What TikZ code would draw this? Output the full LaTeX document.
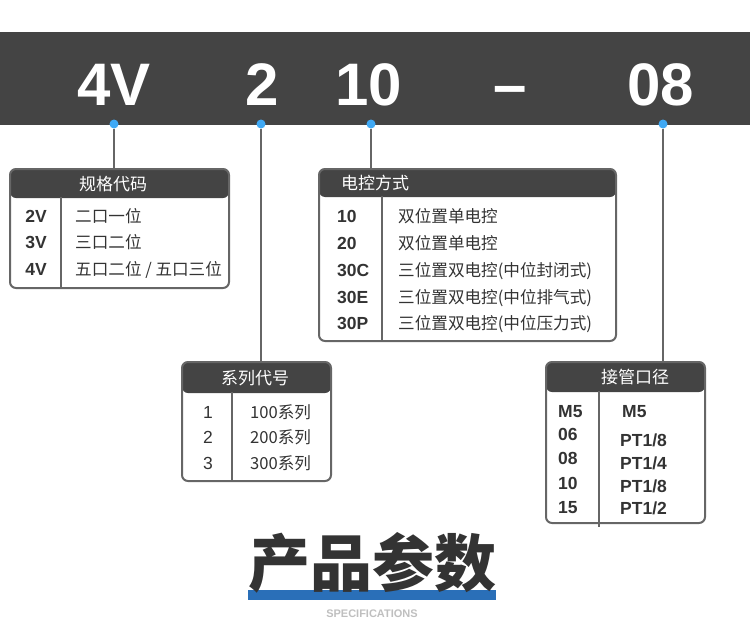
\documentclass[tikz,border=0pt]{standalone}
\usepackage{fontspec}
\setmainfont{Liberation Sans}
\newfontfamily\cjk{Noto Sans CJK SC}
\definecolor{balken}{HTML}{444444}
\definecolor{rahmenfarbe}{HTML}{666666}
\definecolor{punktblau}{HTML}{3FA9F5}
\definecolor{textgrau}{HTML}{333333}
\definecolor{titelblau}{HTML}{2A6FB8}
\begin{document}
\begin{tikzpicture}[x=1pt,y=-1pt,
    kasten/.style={draw=rahmenfarbe,line width=2pt,rounded corners=6pt,inner sep=0pt,
      path picture={\fill[balken] (path picture bounding box.north west) rectangle
        ([yshift=-#1]path picture bounding box.north east);}},
    trenn/.style={draw=rahmenfarbe,line width=2pt},
    leitung/.style={draw=rahmenfarbe,line width=2pt},
    punkt/.style={circle,fill=punktblau,inner sep=0pt,minimum size=9pt},
    ziffer/.style={text=white,font=\bfseries\fontsize{60}{60}\selectfont,anchor=base,inner sep=0pt},
    kopftext/.style={text=white,font=\cjk\fontsize{17}{19}\selectfont,anchor=base,inner sep=0pt},
    code/.style={text=textgrau,font=\bfseries\fontsize{17.5}{19}\selectfont,inner sep=0pt},
    eintrag/.style={text=textgrau,font=\cjk\fontsize{16.6}{18}\selectfont,anchor=base west,inner sep=0pt}]
  \useasboundingbox (0,0) rectangle (750,632);
  % Kopfbalken
  \fill[balken] (0,32) rectangle (750,125);
  \node[ziffer] (z1) at (114,105) {4V};
  \node[ziffer] (z2) at (262,105) {2};
  \node[ziffer] (z3) at (369,105) {10};
  \node[ziffer] (z4) at (510,105) {–};
  \node[ziffer] (z5) at (661,105) {08};
  \node[punkt] (p1) at (114,124) {};
  \node[punkt] (p2) at (261,124) {};
  \node[punkt] (p3) at (371,124) {};
  \node[punkt] (p4) at (663,124) {};
  %
  % Kasten 1, Baureihe
  \node[kasten=29pt,minimum width=219pt,minimum height=119pt] (k1) at (119.5,228.5) {};
  \draw[trenn] ([xshift=52pt,yshift=-29pt]k1.north west) -- ([xshift=52pt]k1.south west);
  \node[kopftext] (h1) at (113,190) {规格代码};
  \node[code,anchor=base] (a11) at (36,222) {2V};
  \node[code,anchor=base] (a12) at (36,248) {3V};
  \node[code,anchor=base] (a13) at (36,275) {4V};
  \node[eintrag] (b11) at (75,222) {二口一位};
  \node[eintrag] (b12) at (75,248) {三口二位};
  \node[eintrag] (b13) at (75,275) {五口二位 / 五口三位};
  %
  % Kasten 2, Steuerung
  \node[kasten=28pt,minimum width=297pt,minimum height=172pt] (k2) at (467.5,255) {};
  \draw[trenn] ([xshift=64pt,yshift=-28pt]k2.north west) -- ([xshift=64pt]k2.south west);
  \node[kopftext,anchor=base west] (h2) at (341,189) {电控方式};
  \node[code,anchor=base west] (a21) at (337,222) {10};
  \node[code,anchor=base west] (a22) at (337,249) {20};
  \node[code,anchor=base west] (a23) at (337,276) {30C};
  \node[code,anchor=base west] (a24) at (337,303) {30E};
  \node[code,anchor=base west] (a25) at (337,329) {30P};
  \node[eintrag] (b21) at (398,222) {双位置单电控};
  \node[eintrag] (b22) at (398,249) {双位置单电控};
  \node[eintrag] (b23) at (398,276) {三位置双电控(中位封闭式)};
  \node[eintrag] (b24) at (398,303) {三位置双电控(中位排气式)};
  \node[eintrag] (b25) at (398,329) {三位置双电控(中位压力式)};
  %
  % Kasten 3, Serie
  \node[kasten=31pt,minimum width=149pt,minimum height=119pt] (k3) at (256.5,421.5) {};
  \draw[trenn] ([xshift=51pt,yshift=-31pt]k3.north west) -- ([xshift=51pt]k3.south west);
  \node[kopftext] (h3) at (255,384) {系列代号};
  \node[code,font=\fontsize{17.5}{19}\selectfont,anchor=base] (a31) at (208,418) {1};
  \node[code,font=\fontsize{17.5}{19}\selectfont,anchor=base] (a32) at (208,443) {2};
  \node[code,font=\fontsize{17.5}{19}\selectfont,anchor=base] (a33) at (208,469) {3};
  \node[eintrag] (b31) at (250,418) {100系列};
  \node[eintrag] (b32) at (250,443) {200系列};
  \node[eintrag] (b33) at (250,469) {300系列};
  %
  % Kasten 4, Anschluss
  \node[kasten=30pt,minimum width=159pt,minimum height=161pt] (k4) at (625.5,442.5) {};
  \draw[trenn] ([xshift=54pt,yshift=-30pt]k4.north west) -- ([xshift=54pt,yshift=-3pt]k4.south west);
  \node[kopftext] (h4) at (635,383) {接管口径};
  \node[code,anchor=base west] (a41) at (558,417) {M5};
  \node[code,anchor=base west] (a42) at (558,440) {06};
  \node[code,anchor=base west] (a43) at (558,464) {08};
  \node[code,anchor=base west] (a44) at (558,489) {10};
  \node[code,anchor=base west] (a45) at (558,513) {15};
  \node[code,anchor=base west] (b41) at (622,417) {M5};
  \node[code,anchor=base west] (b42) at (620,446) {PT1/8};
  \node[code,anchor=base west] (b43) at (620,469) {PT1/4};
  \node[code,anchor=base west] (b44) at (620,492) {PT1/8};
  \node[code,anchor=base west] (b45) at (620,514) {PT1/2};
  %
  % Leitungen
  \draw[leitung] (p1) -- (p1 |- k1.north);
  \draw[leitung] (p2) -- (p2 |- k3.north);
  \draw[leitung] (p3) -- (p3 |- k2.north);
  \draw[leitung] (p4) -- (p4 |- k4.north);
  %
  % Titel
  \fill[titelblau] (248,590) rectangle (496,600);
  \node[text=black!80,font=\cjk\bfseries\fontsize{62}{62}\selectfont,anchor=base,inner sep=0pt] (titel) at (372,586) {产品参数};
  \node[text=black!25,font=\bfseries\fontsize{11}{12}\selectfont,anchor=base,inner sep=0pt] (unter) at (372,617) {SPECIFICATIONS};
\end{tikzpicture}
\end{document}
